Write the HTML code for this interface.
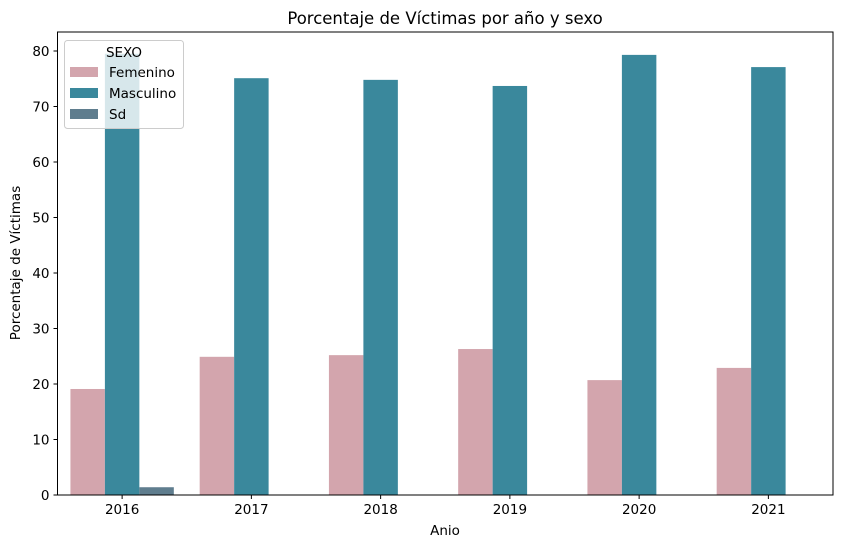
<!DOCTYPE html>
<html><head><meta charset="utf-8"><style>
body{margin:0;background:#fff;font-family:"Liberation Sans","DejaVu Sans",sans-serif;}
svg text{font-family:"DejaVu Sans","Liberation Sans",sans-serif;}
</style></head><body>
<svg id="chart" width="842" height="548" xmlns="http://www.w3.org/2000/svg">
<rect width="842" height="548" fill="#fff"/>
<text x="445" y="24" text-anchor="middle" font-size="16.5" fill="#000">Porcentaje de Víctimas por año y sexo</text>
<g id="bars"></g>
<g id="axes"></g>
<text x="445" y="535" text-anchor="middle" font-size="13.5">Anio</text>
<text transform="translate(20,263) rotate(-90)" text-anchor="middle" font-size="13.5">Porcentaje de Víctimas</text>
<g id="legend"></g>
</svg>
<script>
const years=["2016","2017","2018","2019","2020","2021"];
const femenino=[19.1,24.9,25.2,26.3,20.7,22.9];
const masculino=[79.5,75.1,74.8,73.7,79.3,77.1];
const sd=[1.4,0,0,0,0,0];
const yTicks=[0,10,20,30,40,50,60,70,80];
const seriesNames=["Femenino","Masculino","Sd"];
const seriesColors=["#d3a5ad","#3a889c","#5f7d8e"];
const ns="http://www.w3.org/2000/svg";
const L=57.5,R=833,T=32,B=495;
const yS=v=>B-v*(444/80);
const band=(R-L)/years.length;
const xC=i=>L+band*(i+0.5);
const bw=band*0.8/3;
function mk(tag,attrs,parent){const e=document.createElementNS(ns,tag);for(const k in attrs)e.setAttribute(k,attrs[k]);parent.appendChild(e);return e;}
const gb=document.getElementById('bars');
[femenino,masculino,sd].forEach((vals,s)=>{
  vals.forEach((v,i)=>{
    const x=xC(i)-1.5*bw+s*bw;
    const r=mk('rect',{x:x,y:yS(v),width:bw,height:B-yS(v),fill:seriesColors[s]},gb);
    
    
  });
});
const ga=document.getElementById('axes');
mk('rect',{x:L,y:T,width:R-L,height:B-T,fill:'none',stroke:'#000','stroke-width':1},ga);
yTicks.forEach(t=>{
  const y=yS(t);
  mk('line',{x1:L-4,x2:L,y1:y,y2:y,stroke:'#000'},ga);
  const tx=mk('text',{x:L-8,y:y+5,'text-anchor':'end','font-size':13.5},ga);
  tx.textContent=t;
  
  
});
years.forEach((yr,i)=>{
  const x=xC(i);
  mk('line',{x1:x,x2:x,y1:B,y2:B+4,stroke:'#000'},ga);
  const tx=mk('text',{x:x,y:B+19,'text-anchor':'middle','font-size':13.5},ga);
  tx.textContent=yr;
  
  
});
const gl=document.getElementById('legend');


mk('rect',{x:64.5,y:40.5,width:119,height:88,rx:3,fill:'#fff','fill-opacity':0.8,stroke:'#ccc'},gl);
const lt=mk('text',{x:124,y:57,'text-anchor':'middle','font-size':13.5},gl);
lt.textContent='SEXO';
seriesNames.forEach((n,s)=>{
  const y=72+s*21;
  mk('rect',{x:70,y:y-5,width:28,height:10,fill:seriesColors[s]},gl);
  const t=mk('text',{x:109,y:y+5,'font-size':13.5},gl);
  t.textContent=n;
  
  
});
</script>
</body></html>
